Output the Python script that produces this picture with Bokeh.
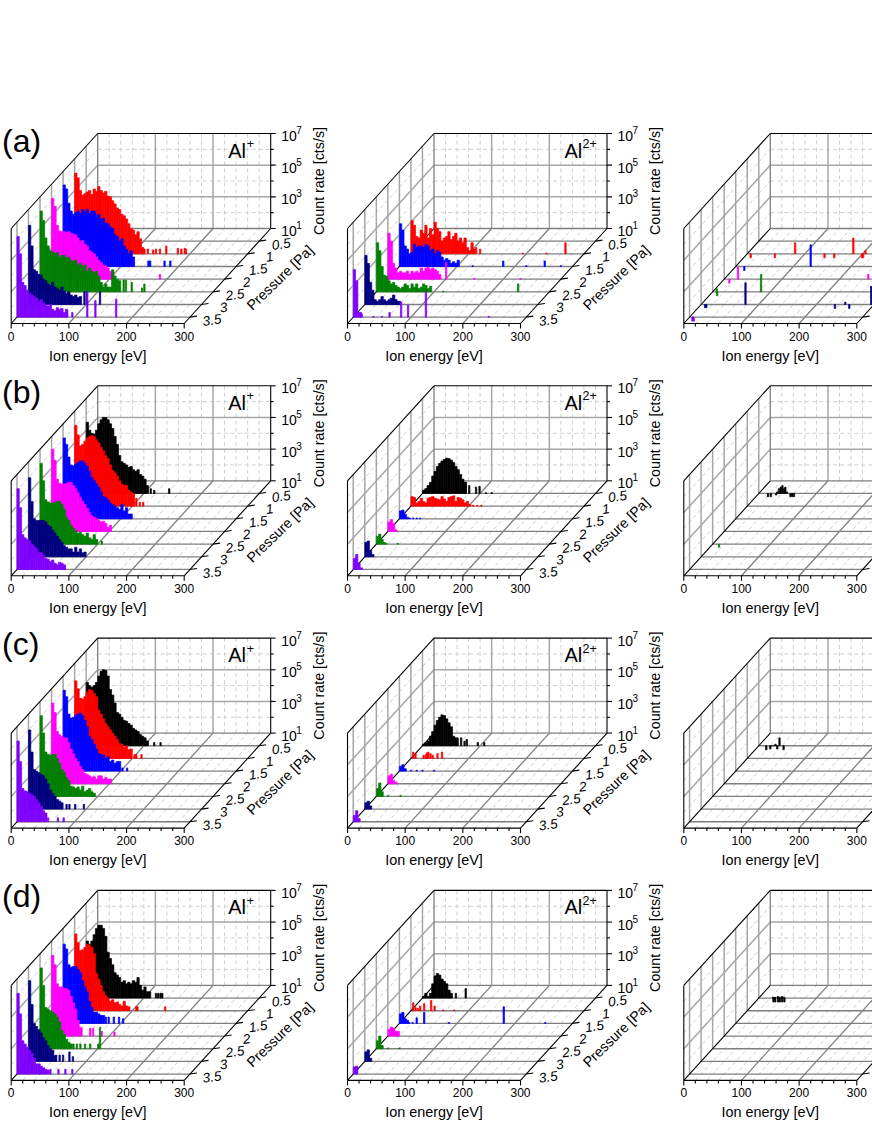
from bokeh.plotting import figure
from bokeh.models import Range1d, ColumnDataSource
from bokeh.core.properties import value
from bokeh.embed import file_html
from bokeh.resources import INLINE

PRESSURES = [0.5, 1, 1.5, 2, 2.5, 3, 3.5]
PRESSURE_LABELS = ["0.5", "1", "1.5", "2", "2.5", "3", "3.5"]
SERIES = ["black", "red", "blue", "magenta", "green", "navy", "violet"]
COLORS = ["#000000", "#ff0000", "#0000ff", "#ff00ff", "#008000", "#000080", "#8000ff"]
ROWS = ["a", "b", "c", "d"]
ION_BASE = ["Al", "Al"]
ION_SUP = ["+", "2+"]
X_TICKS = [0, 100, 200, 300]
X_MINOR = [20, 40, 60, 80, 120, 140, 160, 180, 220, 240, 260, 280]
Z_MAJOR = [1, 3, 5, 7]
Z_MINOR = [2, 4, 6]

# Spectra: log10(count rate) in 4 eV bins starting at 0 eV; *_sp are isolated (energy, log10) spikes.
# Column 1: Al+
a1_red = [6.1,5.8,5.0,4.7,4.8,4.9,5.0,4.75,5.1,4.95,5.25,5.0,4.85,4.95,4.65,4.6,4.35,4.15,3.9,3.8,3.5,3.4,3.2,2.9,2.6,2.5,2.2,2.4,1.95,1.4]
a1_red_sp = [(121,1.3),(127,1.3),(136,1.25),(141,1.3),(148,1.3),(159,1.5),(179,1.35),(185,1.3),(191,1.35),(193,1.3)]
a1_blue = [6.15,5.9,5.0,4.5,4.3,4.4,4.5,4.35,4.6,4.45,4.6,4.35,4.5,4.5,4.2,4.3,4.0,4.05,3.75,3.7,3.5,3.4,3.0,2.9,2.6,2.75,2.3,2.1,1.8,2.0,1.6]
a1_blue_sp = [(148,1.35),(151,1.35),(176,1.35),(186,1.35)]
a1_magenta = [6.1,5.6,4.4,4.05,4.0,4.0,3.95,4.0,3.9,3.85,3.8,3.6,3.4,3.45,3.2,3.1,2.8,2.7,2.6,2.4,2.2,2.05,1.9,1.85,1.7,1.5,1.4]
a1_magenta_sp = [(188,1.3)]
a1_green = [6.1,5.5,4.4,3.9,3.6,3.5,3.4,3.5,3.2,3.3,3.3,3.1,3.2,3.0,2.9,3.0,2.7,2.8,2.6,2.7,2.3,2.5,2.3,2.2,2.3,2.0,1.6,1.3,1.5,1.3,1.3,2.4,2.0,1.8,1.7]
a1_green_sp = [(145,1.75),(149,1.75),(159,1.6),(177,1.25),(181,1.5)]
a1_navy = [6.0,4.7,3.2,3.1,2.9,2.85,2.6,2.5,2.3,2.2,2.4,2.1,2.0,1.9,2.1,1.85,1.7,1.8,1.6,1.5,1.6,1.45,1.5]
a1_navy_sp = [(97,1.8),(101,1.8),(124,1.8)]
a1_violet = [6.1,5.0,3.2,3.0,2.7,2.5,2.4,2.3,2.2,2.0,2.1,1.9,1.8,1.7,1.8,1.5,1.4,1.6,1.5,1.55,1.3,1.5]
a1_violet_sp = [(87,1.3),(96,1.3),(122,2.6),(136,2.05),(172,2.15)]

b1_black = [5.5,5.0,4.8,4.75,5.0,5.4,5.65,5.8,5.8,5.65,5.4,5.1,4.6,4.1,3.4,3.0,2.9,2.8,2.65,2.7,2.5,2.4,2.5,2.2,2.1,1.9,1.5]
b1_black_sp = [(112,1.3),(118,1.2),(144,1.3)]
b1_red = [6.1,5.5,4.8,4.9,5.1,5.3,5.4,5.45,5.4,5.2,5.0,4.7,4.5,4.2,4.0,3.6,3.25,3.1,2.9,2.6,2.4,2.3,2.3,2.0,1.9,1.8]
b1_red_sp = [(101,1.5),(107,1.5),(113,1.25),(119,1.25)]
b1_blue = [6.1,5.7,4.9,4.4,4.35,4.45,4.55,4.65,4.65,4.5,4.3,4.0,3.6,3.4,3.2,3.0,2.7,2.4,2.35,2.2,2.0,1.9,1.8,1.7,1.6,1.9,1.5,1.7,1.3,1.3]
b1_magenta = [6.2,5.5,4.3,4.05,4.0,4.0,4.05,4.1,4.1,3.9,3.7,3.45,3.15,2.9,2.7,2.45,2.2,2.0,1.9,1.8,1.7,1.6,1.65,1.5,1.25,1.4]
b1_green = [6.1,5.0,3.8,3.65,3.6,3.6,3.65,3.7,3.7,3.5,3.2,2.7,2.5,2.2,2.0,1.85,1.7,1.75,1.6,1.5,1.7,1.4,1.3,1.6,1.3]
b1_green_sp = [(98,1.2),(107,1.2)]
b1_navy = [6.0,4.5,3.4,3.3,3.3,3.3,3.3,3.2,3.0,2.9,2.7,2.5,2.3,2.1,1.9,1.7,1.6,1.5,1.5,1.3,1.6,1.3,1.5,1.25,1.3]
b1_violet = [6.1,4.9,3.2,3.0,2.9,2.8,2.6,2.45,2.3,2.1,2.05,1.9,1.7,1.65,1.5,1.6,1.4,1.3,1.45,1.4,1.3]
b1_violet_sp = [(83,1.2)]

c1_black = [5.0,4.8,4.7,4.8,5.0,5.4,5.7,5.8,5.75,5.4,4.55,4.2,3.7,3.1,3.0,2.8,2.6,2.55,2.4,2.3,2.1,2.0,1.9,1.7,1.6,1.5,1.3]
c1_black_sp = [(118,1.2),(129,1.2)]
c1_red = [5.9,5.4,4.8,4.75,4.9,5.2,5.35,5.3,5.1,4.9,4.05,3.8,3.5,3.2,3.0,2.8,2.6,2.4,2.2,1.95,1.9,1.7,1.8,1.55,1.6]
c1_red_sp = [(104,1.25),(107,1.25),(116,1.25)]
c1_blue = [6.1,5.7,4.6,4.35,4.4,4.5,4.6,4.65,4.5,4.2,3.8,3.2,3.0,2.7,2.4,2.1,2.05,2.0,1.8,1.9,1.6,1.7,1.5,1.6,1.6]
c1_blue_sp = [(97,1.2),(103,1.2),(111,1.2)]
c1_magenta = [6.1,5.5,4.3,4.1,4.0,3.9,3.9,3.6,3.2,2.9,2.6,2.4,2.1,1.9,1.65,1.6,1.5,1.4,1.45,1.3,1.5,1.5,1.3,1.4,1.3,1.3]
c1_green = [6.1,5.0,3.8,3.65,3.6,3.65,3.65,3.4,3.1,2.7,2.5,2.2,2.0,1.65,1.6,1.5,1.6,1.4,1.65,1.3,1.4,1.5,1.3,1.2]
c1_navy = [6.0,4.6,3.5,3.4,3.3,3.2,3.1,2.9,2.6,2.2,2.0,1.8,1.6,1.5,1.4]
c1_navy_sp = [(66,1.3),(71,1.3),(81,1.3),(96,1.3)]
c1_violet = [6.1,4.8,3.1,2.95,2.9,2.8,2.7,2.6,2.4,2.2,2.0,1.7,1.55]
c1_violet_sp = [(54,1.25),(71,1.25),(81,1.25)]

d1_black = [4.6,4.4,4.6,5.0,5.4,5.6,5.6,5.4,4.9,3.9,3.5,3.1,2.6,2.45,2.3,2.0,2.1,1.9,2.0,1.9,2.1,2.0,2.3,1.8,1.5,1.7,1.4,1.4]
d1_black_sp = [(121,1.3),(125,1.3),(129,1.3),(132,1.3)]
d1_red = [5.85,5.3,4.8,4.85,5.0,5.2,5.15,5.0,4.6,3.35,3.0,2.6,2.2,1.95,1.8,1.6,1.7,1.5,1.55,1.4,1.3,1.6,1.3,1.25]
d1_red_sp = [(107,1.25),(109,1.25),(157,1.25)]
d1_blue = [6.0,5.7,4.7,4.55,4.6,4.6,4.4,4.2,3.7,3.3,3.0,2.4,2.0,1.7,1.7,1.6,1.5,1.5]
d1_blue_sp = [(74,1.4),(79,1.4),(88,1.4),(97,1.4),(104,1.3)]
d1_magenta = [6.1,5.5,4.3,4.1,4.1,4.0,4.0,3.9,3.5,3.1,2.7,2.0,1.55]
d1_magenta_sp = [(52,1.5),(67,1.5),(72,1.5),(87,1.3),(109,1.25)]
d1_green = [6.1,5.0,3.6,3.5,3.4,3.3,3.2,3.0,2.7,2.15,1.9,1.6,1.4,1.3]
d1_green_sp = [(58,1.3),(64,1.3),(70,1.3),(78,1.3),(87,1.3),(101,1.3),(104,2.35)]
d1_navy = [6.1,4.6,3.4,3.2,3.0,2.8,2.5,2.3,2.0,1.8,1.7,1.35]
d1_navy_sp = [(48,1.4),(54,1.4),(60,1.4),(71,1.6),(77,1.3)]
d1_violet = [6.1,4.8,3.1,2.9,2.7,2.5,2.3,2.0,1.65,1.6,1.5,1.4,1.3,1.25]
d1_violet_sp = [(39,1.65),(58,1.3),(72,1.3),(84,1.3),(96,1.3)]

# Column 2: Al2+
a2_red = [3.1,2.8,2.1,2.0,2.5,2.3,2.8,2.0,2.6,2.2,3.0,2.6,2.4,1.8,2.0,2.1,2.4,1.9,2.1,2.3,1.8,2.0,1.7,2.0,1.4,1.2,1.7,1.3]
a2_red_sp = [(113,1.4),(120,1.3),(194,1.05),(235,1.05),(268,1.7)]
a2_blue = [3.7,3.3,2.3,2.1,1.8,1.9,2.4,2.2,2.3,2.3,2.2,2.4,2.3,2.0,2.1,1.8,2.0,1.9,1.6,1.4,1.5,1.4,1.2,1.3,1.2,1.4]
a2_blue_sp = [(127,1.05),(180,1.35),(220,1.05),(252,1.35),(280,1.05)]
a2_magenta = [3.9,3.4,2.0,1.7,1.4,1.5,1.4,1.4,1.5,1.3,1.5,1.4,1.5,1.4,1.7,1.5,1.7,1.75,1.6,1.7,1.6,1.5,1.3]
a2_magenta_sp = [(75,1.3),(101,2.05),(150,1.05),(230,1.05)]
a2_green = [4.1,3.6,2.6,2.05,2.0,1.7,1.5,1.6,1.4,1.3,1.2,1.3,1.5,1.4,1.2,1.5,1.3,1.5,1.2,1.3,1.5,1.4,1.2,1.35]
a2_green_sp = [(116,1.05),(246,1.5)]
a2_navy = [4.1,3.6,2.4,1.9,1.3,1.2,1.3,1.5,1.3,1.2,1.3,1.4,1.6,1.3,1.2]
a2_navy_sp = [(54,1.3),(61,1.2)]
a2_violet = [4.0,3.3,1.3,1.2]
a2_violet_sp = [(13,1.3),(35,1.05),(50,1.05),(63,1.3),(83,1.95),(95,1.75),(126,2.6),(235,1.05)]

b2_black = [1.2,1.3,1.5,1.7,2.1,2.4,2.7,2.9,3.05,3.15,3.23,3.2,3.1,2.95,2.7,2.5,2.2,1.9,1.7]
b2_black_sp = [(75,1.7),(81,1.5),(93,1.4),(99,1.45),(110,1.05),(120,1.05)]
b2_red = [1.6,1.55,1.2,1.3,1.5,1.3,1.2,1.5,1.55,1.6,1.5,1.45,1.4,1.6,1.45,1.3,1.55,1.6,1.65,1.3,1.55,1.5,1.4,1.2,1.3,1.1]
b2_red_sp = [(108,1.05),(115,1.05),(122,1.05)]
b2_blue = [1.5,1.55,1.3,1.1]
b2_blue_sp = [(18,1.05),(24,1.05),(30,1.05),(36,1.05)]
b2_magenta = [1.6,1.75,1.5,1.1]
b2_green = [1.5,1.63,1.3,1.1]
b2_green_sp = [(17,1.05),(37,1.05)]
b2_navy = [1.9,2.0,1.4,1.15]
b2_violet = [1.7,1.95,1.4,1.1]

c2_black = [1.1,1.2,1.3,1.6,1.9,2.3,2.6,2.8,2.95,2.9,2.7,2.45,2.2,1.6,1.5]
c2_black_sp = [(61,1.5),(67,1.5),(73,1.3),(77,1.4),(96,1.2),(107,1.2)]
c2_red_sp = [(4,1.4),(8,1.3),(22,1.2),(26,1.25),(28,1.35),(30,1.4),(34,1.3),(38,1.2),(46,1.3),(54,1.4)]
c2_blue = [1.3,1.4,1.15]
c2_blue_sp = [(20,1.05),(30,1.05),(40,1.05),(60,1.05)]
c2_magenta = [1.5,1.6,1.2,1.1]
c2_green = [1.5,1.85,1.3]
c2_green_sp = [(20,1.05),(42,1.05)]
c2_navy = [1.4,1.5,1.2]
c2_violet = [1.4,1.7,1.2]

d2_black = [1.1,1.3,1.1,1.3,1.9,2.4,2.55,2.45,2.2,2.05,1.9,1.5,1.3]
d2_black_sp = [(58,1.3),(75,1.6)]
d2_red_sp = [(4,1.5),(8,1.2),(12,1.15),(16,1.3),(23,1.45),(35,1.65),(41,1.3),(56,1.05),(75,1.05)]
d2_blue = [1.6,1.7,1.3,1.2]
d2_blue_sp = [(17,1.05),(23,1.05),(30,1.35),(43,1.7),(86,1.05),(181,2.05),(253,1.05)]
d2_magenta = [1.4,1.57,1.5,1.3,1.3]
d2_magenta_sp = [(16,1.2)]
d2_green = [1.5,1.8,1.2]
d2_green_sp = [(20,1.05),(40,1.05)]
d2_navy = [1.6,1.73,1.2]
d2_violet = [1.45,1.5]

# Column 3: isolated events; values below 1 lie just under the baseline, as printed
a3_red_sp = [(6,0.75),(48,0.75),(83,1.7),(134,0.75),(151,0.75),(184,2.0),(199,0.75),(201,0.75),(205,1.2)]
a3_blue_sp = [(15,0.75),(130,2.37)]
a3_magenta_sp = [(9,0.75),(24,1.75),(250,1.3)]
a3_green_sp = [(7,1.2),(8,0.75),(84,2.1)]
a3_navy_sp = [(7,0.8),(9,0.8),(77,2.37),(232,0.75),(250,1.15),(257,0.75),(295,2.15)]
a3_violet_sp = [(5,0.75),(7,0.75)]
b3_black_sp = [(16,0.8),(21,0.8),(30,0.9),(32,1.1),(35,1.3),(38,1.4),(41,1.5),(44,1.3),(46,1.4),(49,1.1),(55,0.8),(58,0.8),(61,0.8)]
b3_green_sp = [(11,0.8)]
c3_black_sp = [(13,0.75),(20,0.8),(23,1.0),(26,1.0),(29,1.1),(32,0.8),(36,1.5),(43,0.75)]
d3_black_sp = [(25,1.05),(25.5,0.75),(28,1.05),(28.5,0.75),(33,1.1),(33.5,0.75),(36,1.05),(36.5,0.75),(40,1.1),(40.5,0.75),(44,1.05),(44.5,0.75)]

# layout of the page, in pixels
PX0 = 10.7; COL_STEP = 336.3
PY0 = 323.0; ROW_STEP = 252.3
W = 173.0; DX = 86.5; DZ = 95.0; H = 95.0
BIN = 4.0; SPIKE = 2.4

def prj(c, r, e, p, l):
    d = (3.75 - p) / 3.75
    x = PX0 + c * COL_STEP + e / 300 * W + d * DX
    y = PY0 + r * ROW_STEP - d * DZ - (l - 1) / 6 * H
    return x, y

P_FRONT = 3.75; P_BACK = 0.0

p = figure(width=872, height=1128, x_range=Range1d(0, 872), y_range=Range1d(1128, 0),
           output_backend="svg", toolbar_location=None, min_border=0, outline_line_color=None)
p.axis.visible = False
p.grid.visible = False
p.background_fill_color = "white"

def seg_lines(segs, color, width, dash="solid"):
    xs = [[a[0], b[0]] for a, b in segs]
    ys = [[a[1], b[1]] for a, b in segs]
    p.multi_line(xs, ys, line_color=color, line_width=width, line_dash=dash)

GREY = "#a6a6a6"; DGREY = "#7f7f7f"; LIGHT = "#cfcfcf"; FONT = "Liberation Sans"
dash_segs, grey_segs, dgrey_segs, black_segs, floor_edge = [], [], [], [], []
labels = {"x": [], "y": [], "text": [], "size": [], "align": [], "angle": [], "style": []}

def lab(x, y, t, size, align="center", angle=0, style="normal"):
    labels["x"].append(x); labels["y"].append(y); labels["text"].append(t)
    labels["size"].append(f"{size}px"); labels["align"].append(align)
    labels["angle"].append(angle); labels["style"].append(style)

q = {"left": [], "right": [], "top": [], "bottom": [], "color": []}

for r, row in enumerate(ROWS):
    for c in range(3):
        for e in X_MINOR:
            dash_segs.append((prj(c, r, e, P_BACK, 1), prj(c, r, e, P_BACK, 7)))
            dash_segs.append((prj(c, r, e, P_FRONT, 1), prj(c, r, e, P_BACK, 1)))
        for l in Z_MINOR:
            dash_segs.append((prj(c, r, 0, P_BACK, l), prj(c, r, 300, P_BACK, l)))
            dash_segs.append((prj(c, r, 0, P_FRONT, l), prj(c, r, 0, P_BACK, l)))
        for e in [100, 200]:
            grey_segs.append((prj(c, r, e, P_BACK, 1), prj(c, r, e, P_BACK, 7)))
            dgrey_segs.append((prj(c, r, e, P_FRONT, 1), prj(c, r, e, P_BACK, 1)))
        for l in [3, 5]:
            grey_segs.append((prj(c, r, 0, P_BACK, l), prj(c, r, 300, P_BACK, l)))
            grey_segs.append((prj(c, r, 0, P_FRONT, l), prj(c, r, 0, P_BACK, l)))
        for pr in PRESSURES:
            grey_segs.append((prj(c, r, 0, pr, 1), prj(c, r, 0, pr, 7)))
            dgrey_segs.append((prj(c, r, 0, pr, 1), prj(c, r, 300, pr, 1)))
        dgrey_segs.append((prj(c, r, 0, P_BACK, 1), prj(c, r, 300, P_BACK, 1)))
        dgrey_segs.append((prj(c, r, 0, P_BACK, 1), prj(c, r, 0, P_BACK, 7)))
        floor_edge.append((prj(c, r, 0, P_FRONT, 1), prj(c, r, 0, P_BACK, 1)))
        black_segs += [
            (prj(c, r, 0, P_FRONT, 1), prj(c, r, 300, P_FRONT, 1)),
            (prj(c, r, 300, P_FRONT, 1), prj(c, r, 300, P_BACK, 1)),
            (prj(c, r, 300, P_BACK, 1), prj(c, r, 300, P_BACK, 7)),
            (prj(c, r, 300, P_BACK, 7), prj(c, r, 0, P_BACK, 7)),
            (prj(c, r, 0, P_BACK, 7), prj(c, r, 0, P_FRONT, 7)),
            (prj(c, r, 0, P_FRONT, 7), prj(c, r, 0, P_FRONT, 1)),
        ]
        for e in X_TICKS + X_MINOR:
            x, y = prj(c, r, e, P_FRONT, 1)
            black_segs.append(((x, y), (x, y + (5 if e in X_TICKS else 3))))
        for e in X_TICKS:
            x, y = prj(c, r, e, P_FRONT, 1)
            lab(x, y + 12.5, str(e), 12)
        x, y = prj(c, r, 150, P_FRONT, 1)
        lab(x, y + 32, "Ion energy [eV]", 14.4)
        for l in Z_MAJOR + Z_MINOR:
            x, y = prj(c, r, 300, P_BACK, l)
            black_segs.append(((x, y), (x + (5 if l in Z_MAJOR else 3), y)))
        for pr in PRESSURES:
            x, y = prj(c, r, 300, pr, 1)
            black_segs.append(((x, y), (x + 7, y - 1)))
        if c < 2:  # the third column's right-hand texts lie beyond the page in the reference
            for l in Z_MAJOR:
                x, y = prj(c, r, 300, P_BACK, l)
                lab(x + 10.5, y + 2.5, "10", 14, "left")
                lab(x + 25.5, y - 3.5, str(l), 10, "left")
            x, y = prj(c, r, 300, P_BACK, 4)
            lab(x + 48, y, "Count rate [cts/s]", 14.3, "center", 90)
            for pr, t in zip(PRESSURES, PRESSURE_LABELS):
                x, y = prj(c, r, 300, pr, 1)
                lab(x + 22, y + 3, t, 13.5, "center", 8, "italic")
            x, y = prj(c, r, 300, 1.9, 1)
            lab(x + 53, y + 1, "Pressure [Pa]", 14.2, "center", 44)
            x, y = prj(c, r, 0, P_FRONT, 1)
            lab(x + 217, y - 173, ION_BASE[c], 20, "left")
            lab(x + 217 + (18.5 if c == 0 else 18), y - 180, ION_SUP[c], 12.5, "left")
        for s, col in zip(SERIES, COLORS):
            pr = PRESSURES[SERIES.index(s)]
            bulk = globals().get(f"{row}{c+1}_{s}", [])
            spikes = globals().get(f"{row}{c+1}_{s}_sp", [])
            for i, l in enumerate(bulk):
                x1, y1 = prj(c, r, i * BIN, pr, l)
                x2, y2 = prj(c, r, (i + 1) * BIN, pr, 1)
                q["left"].append(x1); q["right"].append(x2); q["top"].append(y1); q["bottom"].append(y2); q["color"].append(col)
            for e, l in spikes:
                x1, y1 = prj(c, r, e - SPIKE / 2, pr, l)
                x2, y2 = prj(c, r, e + SPIKE / 2, pr, 1)
                q["left"].append(x1); q["right"].append(x2); q["top"].append(y1); q["bottom"].append(y2); q["color"].append(col)
    lab(1.5, PY0 + r * ROW_STEP - 183 + (0 if r == 0 else -1), f"({row})", 32, "left")

seg_lines(dash_segs, LIGHT, 1, "4 3")
seg_lines(grey_segs, GREY, 1.5)
seg_lines(dgrey_segs, DGREY, 1.3)
seg_lines(floor_edge, "#000000", 1.1)
p.quad(left="left", right="right", top="top", bottom="bottom", color="color",
       line_width=0.7, source=ColumnDataSource(q))
seg_lines(black_segs, "#000000", 1.1)
p.text(x="x", y="y", text="text", text_font=value(FONT), text_font_size="size", text_align="align",
       text_baseline="middle", angle="angle", angle_units="deg", text_font_style="style",
       text_color="#000000", source=ColumnDataSource(labels))

open("out.html", "w").write(file_html(p, INLINE))
